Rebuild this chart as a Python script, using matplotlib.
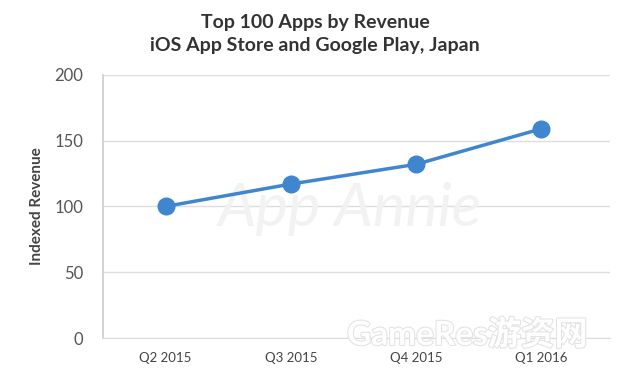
import matplotlib.pyplot as plt
import matplotlib.patheffects as pe

quarters = ['Q2 2015', 'Q3 2015', 'Q4 2015', 'Q1 2016']
revenue = [100, 117, 132, 159]
y_ticks = [0, 50, 100, 150, 200]

plt.rcParams['font.family'] = ['Lato', 'Noto Sans CJK SC', 'DejaVu Sans']

fig = plt.figure(figsize=(6.3, 3.76), dpi=100)
ax = fig.add_axes([0.1635, 0.101, 0.805, 0.70])

x = list(range(len(quarters)))
ax.plot(x, revenue, color='#3f86cf', linewidth=2.5, marker='o',
        markersize=12, zorder=3)

ax.set_xlim(-0.5, 3.55)
ax.set_ylim(0, 200)
ax.set_yticks(y_ticks)
ax.set_xticks(x)
ax.set_xticklabels(quarters, fontsize=9.5, color='#444444')
ax.tick_params(axis='y', labelsize=12, colors='#555555', length=0, pad=14)
ax.tick_params(axis='x', length=0, pad=10)
ax.grid(axis='y', color='#dddddd', linewidth=1)
ax.set_axisbelow(True)
for side in ['top', 'right']:
    ax.spines[side].set_visible(False)
ax.spines['left'].set_color('#cccccc')
ax.spines['bottom'].set_color('#dddddd')
ax.spines['left'].set_linewidth(1.2)

ax.set_ylabel('Indexed Revenue', fontsize=11, fontweight='bold',
              color='#444444', labelpad=8)

fig.text(0.5, 0.94, 'Top 100 Apps by Revenue', ha='center', va='center',
         fontsize=14, fontweight='bold', color='#333333')
fig.text(0.5, 0.88, 'iOS App Store and Google Play, Japan', ha='center',
         va='center', fontsize=14, fontweight='bold', color='#333333')

# faint watermarks
ax.text(1.47, 98, 'App Annie', fontsize=44, style='italic', color='#f2f2f2',
        ha='center', va='center', zorder=1)
fig.text(0.742, 0.112, 'GameRes游资网', fontsize=24, fontweight='bold',
         color='white', ha='center', va='center',
         path_effects=[pe.withStroke(linewidth=1.5, foreground='#e2e2e2')])

fig.savefig('out.png', dpi=100)
